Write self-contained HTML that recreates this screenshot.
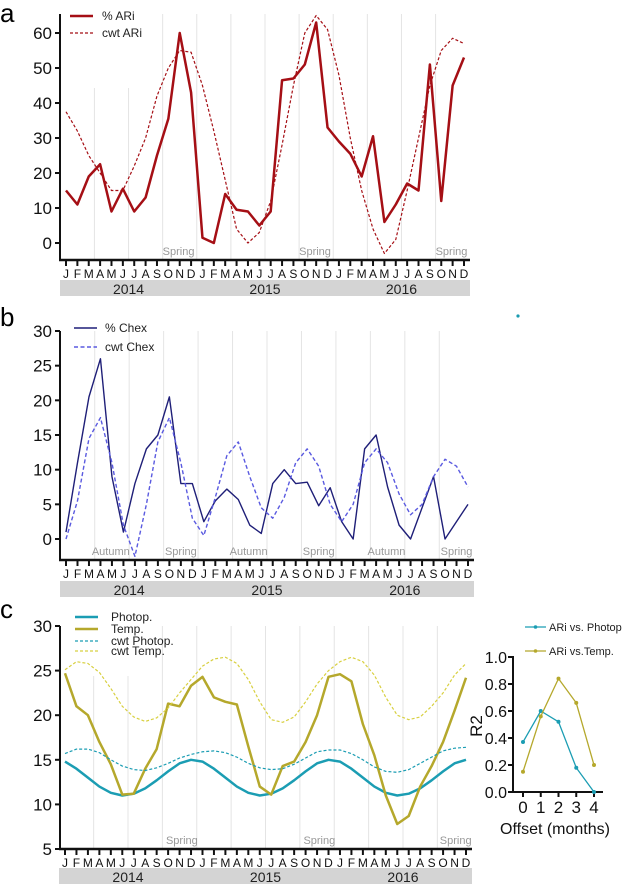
<!DOCTYPE html>
<html><head><meta charset="utf-8"><style>
body{margin:0;background:#fff}
svg{display:block;font-family:"Liberation Sans",sans-serif}
</style></head><body>
<svg id="chart" width="622" height="885" viewBox="0 0 622 885" xmlns="http://www.w3.org/2000/svg">
<text x="0" y="22" font-size="26">a</text>
<text x="0" y="326" font-size="26">b</text>
<text x="0" y="618" font-size="26">c</text>
<circle cx="518" cy="316" r="1.6" fill="#1a9bb0"/>
</svg>
<script>
const months=["J","F","M","A","M","J","J","A","S","O","N","D"];
const years=["2014","2015","2016"];
const ariPct=[15,11,19,22.5,9,15.5,9,13,25,35.5,60,43, 1.5,0,14,9.5,9,5,9,46.5,47,51,63,33, 29,25.5,19,30.5,6,11,17,15,51,12,45,53];
const ariCwt=[37.5,32,25,20,15,15,22,30,42,50,55,54.5, 45,32,18,4,0,3,12,28,45,60,65,61, 48,30,15,4,-3,1,15,30,45,55,58.5,57];
const chexPct=[1,11,20.5,26,9,1,8,13,15,20.5,8,8, 2.5,5.5,7.2,5.7,2,0.8,8,10,8,8.2,4.8,7.4, 2.5,0,13,15,7.5,2,0,4.5,9,0,2.5,5];
const chexCwt=[0,5.5,14.5,17.5,11,2,-2.5,5,14,17.5,11,3, 0.5,6,12,14,9,4.5,3,6,11,13,10.5,5, 2.5,5,11,13,11,6.5,3.5,5,9,11.5,10.5,7.5];
const temp=[24.7,21,20,17,14.5,11.1,11.2,14,16.2,21.3,21,23.3, 24.3,22,21.5,21.2,16.5,12,11.1,14.3,14.8,17,20,24.3, 24.6,23.8,19,15.5,11,7.8,8.7,12,14.3,17,20.5,24.2];
const photop=[14.8,14,13,12,11.3,11,11.2,11.8,12.7,13.7,14.6,15, 14.8,14,13,12,11.3,11,11.2,11.8,12.7,13.7,14.6,15, 14.8,14,13,12,11.3,11,11.2,11.8,12.7,13.7,14.6,15];
const photopCwt=[15.7,16.2,16.2,15.8,15,14.3,13.9,13.8,14.1,14.6,15.2,15.6, 15.9,16,15.8,15.3,14.6,14.1,13.9,14,14.5,15.2,15.9,16.1, 16.1,15.7,15,14.2,13.7,13.6,13.9,14.6,15.3,16,16.3,16.4];
const tempCwt=[25.1,26,25.8,24.8,23,21,19.8,19.3,19.7,20.8,22.5,24, 25.5,26.3,26.5,25.8,24,21.5,19.5,19.2,19.8,21.5,23.5,25, 26,26.5,26,24.5,22,20,19.5,19.8,21,22.5,24.5,25.8];
const offsets=[0,1,2,3,4];
const r2Photop=[0.37,0.60,0.52,0.18,0.0];
const r2Temp=[0.15,0.56,0.84,0.66,0.20];
const ticksA=[0,10,20,30,40,50,60];
const ticksB=[0,5,10,15,20,25,30];
const ticksC=[5,10,15,20,25,30];
const ticksR=[0,0.2,0.4,0.6,0.8,1.0];

const svg=document.getElementById('chart');
const NS="http://www.w3.org/2000/svg";
function mk(tag,attrs,parent){const e=document.createElementNS(NS,tag);for(const k in attrs)e.setAttribute(k,attrs[k]);(parent||svg).appendChild(e);return e;}

function panel(cfg){
  const g=mk('g',{});
  
  
  const xs=i=>cfg.x0+i*(cfg.x1-cfg.x0)/35;
  const ys=v=>cfg.yv0+(v-cfg.v0)*(cfg.yv1-cfg.yv0)/(cfg.v1-cfg.v0);
  for(let k=0;k<11;k++){const i=2.5+3*k;
    const gl=mk('line',{x1:xs(i),x2:xs(i),y1:(k<2?cfg.gridShort:cfg.top),y2:cfg.axisY,stroke:'#e4e4e4','stroke-width':1},g);
    
    }
  cfg.seasons.forEach(s=>{const t=mk('text',{x:xs(s[1]),y:cfg.axisY-5,'font-size':11,fill:'#999','text-anchor':'middle'},g);t.textContent=s[0];
    
    });
  const ya=mk('line',{x1:cfg.axisX,x2:cfg.axisX,y1:cfg.top,y2:cfg.axisY+1,stroke:'#111','stroke-width':2},g);
  
  
  cfg.ticks.forEach(v=>{const y=ys(v);
    mk('line',{x1:cfg.axisX-5,x2:cfg.axisX,y1:y,y2:y,stroke:'#111','stroke-width':2},g);
    const t=mk('text',{x:cfg.axisX-8,y:y+6,'font-size':17,'text-anchor':'end',fill:'#111'},g);t.textContent=v;
    
    });
  const xa=mk('line',{x1:cfg.axisX-1,x2:cfg.x1+6,y1:cfg.axisY,y2:cfg.axisY,stroke:'#111','stroke-width':2.5},g);
  
  
  for(let i=0;i<36;i++){
    mk('line',{x1:xs(i),x2:xs(i),y1:cfg.axisY,y2:cfg.axisY+6,stroke:'#111','stroke-width':2},g);
    const t=mk('text',{x:xs(i),y:cfg.axisY+18,'font-size':12,'text-anchor':'middle',fill:'#111'},g);t.textContent=months[i%12];
    
    }
  years.forEach((yr,k)=>{const xa0=xs(12*k)-7,xb=xs(12*k+11)+7;
    const r=mk('rect',{x:xa0+1,y:cfg.axisY+cfg.barOff,width:xb-xa0-2,height:16,fill:'#d4d4d4'},g);
    
    
    const t=mk('text',{x:(xa0+xb)/2,y:cfg.axisY+cfg.barOff+14,'font-size':14,'text-anchor':'middle',fill:'#222'},g);t.textContent=yr;
    
    });
  cfg.series.forEach(s=>{
    const p=mk('polyline',{points:s.data.map((v,i)=>xs(i)+','+ys(v)).join(' '),fill:'none',stroke:s.color,'stroke-width':s.w,'stroke-dasharray':s.dash||'none','stroke-linejoin':'round'},g);
    
    });
  cfg.series.forEach((s,k)=>{const ly=cfg.legY[k];
    const l=mk('line',{x1:cfg.legX,x2:cfg.legX+23,y1:ly,y2:ly,stroke:s.color,'stroke-width':s.w,'stroke-dasharray':s.dash||'none'},g);
    
    
    const t=mk('text',{x:cfg.legTX,y:ly+4,'font-size':cfg.legFS,fill:'#222'},g);t.textContent=s.label;
    
    });
}

panel({name:'panel-a',x0:66,x1:464,axisX:60,axisY:260,top:14,gridShort:88,v0:0,v1:60,yv0:243,yv1:33,ticks:ticksA,barOff:20,
  seasons:[['Spring',9.9],['Spring',21.9],['Spring',33.9]],
  series:[{id:'ari-pct-line',label:'% ARi',data:ariPct,color:'#a50f15',w:2.5},{id:'ari-cwt-line',label:'cwt ARi',data:ariCwt,color:'#a50f15',w:1.2,dash:'3,2'}],
  legX:70,legTX:102,legY:[16,33],legFS:12});
panel({name:'panel-b',x0:66,x1:468,axisX:60,axisY:560,top:331,gridShort:331,v0:0,v1:30,yv0:539,yv1:331,ticks:ticksB,barOff:21,
  seasons:[['Autumn',3.9],['Spring',10],['Autumn',15.9],['Spring',22],['Autumn',27.9],['Spring',34]],
  series:[{id:'chex-pct-line',label:'% Chex',data:chexPct,color:'#1f1f78',w:1.4},{id:'chex-cwt-line',label:'cwt Chex',data:chexCwt,color:'#5a5ae0',w:1.4,dash:'4,2.5'}],
  legX:74,legTX:105,legY:[328,347],legFS:12});
panel({name:'panel-c',x0:65,x1:466,axisX:60,axisY:849,top:626,gridShort:676,v0:5,v1:30,yv0:849,yv1:626,ticks:ticksC,barOff:19,
  seasons:[['Spring',10.2],['Spring',22.2],['Spring',34.1]],
  series:[{id:'photop-line',label:'Photop.',data:photop,color:'#1b9db3',w:2.5},{id:'temp-line',label:'Temp.',data:temp,color:'#b5a82c',w:2.5},
    {id:'photop-cwt-line',label:'cwt Photop.',data:photopCwt,color:'#1b9db3',w:1.2,dash:'3,2'},{id:'temp-cwt-line',label:'cwt Temp.',data:tempCwt,color:'#d8d040',w:1.2,dash:'3,2'}],
  legX:75,legTX:111,legY:[617,629,641,651],legFS:12});

(function(){
  const g=mk('g',{});
  
  
  const xs=o=>523+o*(594-523)/4;
  const ys=v=>792-v*(792-657);
  mk('line',{x1:513,x2:513,y1:656,y2:793,stroke:'#111','stroke-width':2},g);
  mk('line',{x1:512,x2:603,y1:792,y2:792,stroke:'#111','stroke-width':2},g);
  ticksR.forEach(v=>{const y=ys(v);mk('line',{x1:508,x2:513,y1:y,y2:y,stroke:'#111','stroke-width':2},g);
    const t=mk('text',{x:507,y:y+6,'font-size':16,'text-anchor':'end',fill:'#111'},g);t.textContent=v.toFixed(1);
    
    });
  offsets.forEach(o=>{mk('line',{x1:xs(o),x2:xs(o),y1:792,y2:797,stroke:'#111','stroke-width':2},g);
    const t=mk('text',{x:xs(o),y:813,'font-size':17,'text-anchor':'middle',fill:'#111'},g);t.textContent=o;
    
    });
  const xt=mk('text',{x:555,y:834,'font-size':16,'text-anchor':'middle',fill:'#111'},g);xt.textContent='Offset (months)';
  
  
  const yt=mk('text',{x:0,y:0,'font-size':17,'text-anchor':'middle',fill:'#111',transform:'translate(482,726) rotate(-90)'},g);yt.textContent='R2';
  
  
  [[r2Photop,'#1b9db3','ARi vs. Photop.',627,'r2-photop-line'],[r2Temp,'#b5a82c','ARi vs.Temp.',651,'r2-temp-line']].forEach(s=>{
    const p=mk('polyline',{points:s[0].map((v,i)=>xs(offsets[i])+','+ys(v)).join(' '),fill:'none',stroke:s[1],'stroke-width':1.3},g);
    
    
    s[0].forEach((v,i)=>{const c=mk('circle',{cx:xs(offsets[i]),cy:ys(v),r:2,fill:s[1]},g);
      
      });
    mk('line',{x1:525,x2:546,y1:s[3],y2:s[3],stroke:s[1],'stroke-width':1.3},g);
    mk('circle',{cx:535.5,cy:s[3],r:1.8,fill:s[1]},g);
    const t=mk('text',{x:549,y:s[3]+4,'font-size':11,fill:'#222'},g);t.textContent=s[2];
    
    });
})();
</script>
</body></html>
